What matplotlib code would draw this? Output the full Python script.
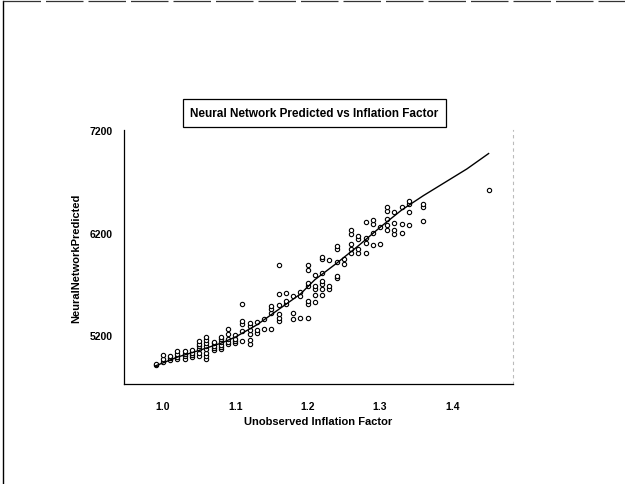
import matplotlib.pyplot as plt
from matplotlib.lines import Line2D

plt.rcParams['font.family'] = ['Liberation Sans', 'DejaVu Sans']

# observed points, one list of predictions per inflation-factor step
factor_steps = [0.99, 1.00, 1.01, 1.02, 1.03, 1.04, 1.05, 1.06, 1.07, 1.08,
                1.09, 1.10, 1.11, 1.12, 1.13, 1.14, 1.15, 1.16, 1.17, 1.18,
                1.19, 1.20, 1.21, 1.22, 1.23, 1.24, 1.25, 1.26, 1.27, 1.28,
                1.29, 1.30, 1.31, 1.32, 1.33, 1.34, 1.36, 1.45]
predicted = [
    [4905, 4920],
    [4940, 4970, 5010],
    [4960, 4975, 4995],
    [4965, 4990, 5015, 5040],
    [4970, 4995, 5020, 5045],
    [4985, 5005, 5030, 5055],
    [4995, 5030, 5060, 5090, 5115, 5145],
    [4970, 5000, 5030, 5060, 5090, 5120, 5150, 5180],
    [5055, 5075, 5095, 5120, 5135],
    [5060, 5080, 5100, 5130, 5160, 5180],
    [5110, 5135, 5160, 5210, 5260],
    [5120, 5140, 5165, 5200],
    [5145, 5240, 5305, 5340, 5500],
    [5110, 5150, 5215, 5245, 5290, 5320],
    [5225, 5250, 5330],
    [5260, 5355],
    [5260, 5420, 5455, 5480],
    [5340, 5370, 5405, 5490, 5600, 5880],
    [5505, 5535, 5615],
    [5355, 5420, 5580],
    [5370, 5580, 5620],
    [5370, 5500, 5530, 5680, 5710, 5830, 5880],
    [5520, 5590, 5650, 5680, 5790],
    [5590, 5650, 5700, 5730, 5810, 5940, 5960],
    [5650, 5680, 5930],
    [5760, 5780, 5910, 6040, 6070],
    [5890, 5940],
    [6000, 6040, 6090, 6190, 6220],
    [6000, 6040, 6140, 6170],
    [6000, 6100, 6150, 6300],
    [6080, 6200, 6280, 6320],
    [6090, 6250],
    [6220, 6270, 6330, 6410, 6450],
    [6190, 6220, 6290, 6400],
    [6200, 6280, 6450],
    [6270, 6400, 6480, 6510],
    [6310, 6450, 6480],
    [6615],
]

# fitted curve
fit_x = [0.99, 1.02, 1.05, 1.08, 1.10, 1.13, 1.16, 1.19, 1.21, 1.24,
         1.27, 1.30, 1.33, 1.36, 1.39, 1.42, 1.45]
fit_y = [4900, 4985, 5050, 5120, 5180, 5300, 5450, 5600, 5740, 5900,
         6070, 6250, 6420, 6560, 6690, 6820, 6970]

x_ticks = [1.0, 1.1, 1.2, 1.3, 1.4]
y_ticks = [5200, 6200, 7200]

pts_x = [x for x, ys in zip(factor_steps, predicted) for _ in ys]
pts_y = [y for ys in predicted for y in ys]

fig = plt.figure(figsize=(6.25, 4.85), dpi=100)
ax = fig.add_axes([0.198, 0.206, 0.622, 0.524])

ax.plot(pts_x, pts_y, 'o', ms=3.1, mfc='white', mec='black', mew=0.8)
ax.plot(fit_x, fit_y, color='black', lw=1.0)

ax.set_xlim(0.946, 1.483)
ax.set_ylim(4722, 7200)
ax.set_xticks(x_ticks)
ax.set_xticklabels(['%.1f' % t for t in x_ticks])
ax.set_yticks(y_ticks)
ax.tick_params(length=0, labelsize=7.5, pad=12)
ax.tick_params(axis='y', pad=8)
for lab in ax.get_xticklabels() + ax.get_yticklabels():
    lab.set_fontweight('bold')

ax.spines['top'].set_visible(False)
ax.spines['right'].set_linestyle((0, (2, 4)))
ax.spines['right'].set_color('#bbbbbb')
ax.spines['right'].set_linewidth(0.8)
ax.spines['left'].set_linewidth(0.9)
ax.spines['bottom'].set_linewidth(0.9)

ax.set_xlabel('Unobserved Inflation Factor', fontsize=8, fontweight='bold', labelpad=4)
ax.set_ylabel('NeuralNetworkPredicted', fontsize=8, fontweight='bold', labelpad=6)

fig.text(0.503, 0.765, 'Neural Network Predicted vs Inflation Factor',
         ha='center', va='center', fontsize=8.5, fontweight='bold',
         bbox=dict(boxstyle='square,pad=0.65', fc='white', ec='black', lw=0.9))

# page frame along the top and left edges
fig.add_artist(Line2D([0.005, 0.005], [0.0, 0.996], color='black', lw=1.0))
fig.add_artist(Line2D([0.005, 1.0], [0.996, 0.996], color='#333333', lw=0.9,
                      linestyle=(0, (30, 4))))

fig.savefig('out.png', dpi=100)
